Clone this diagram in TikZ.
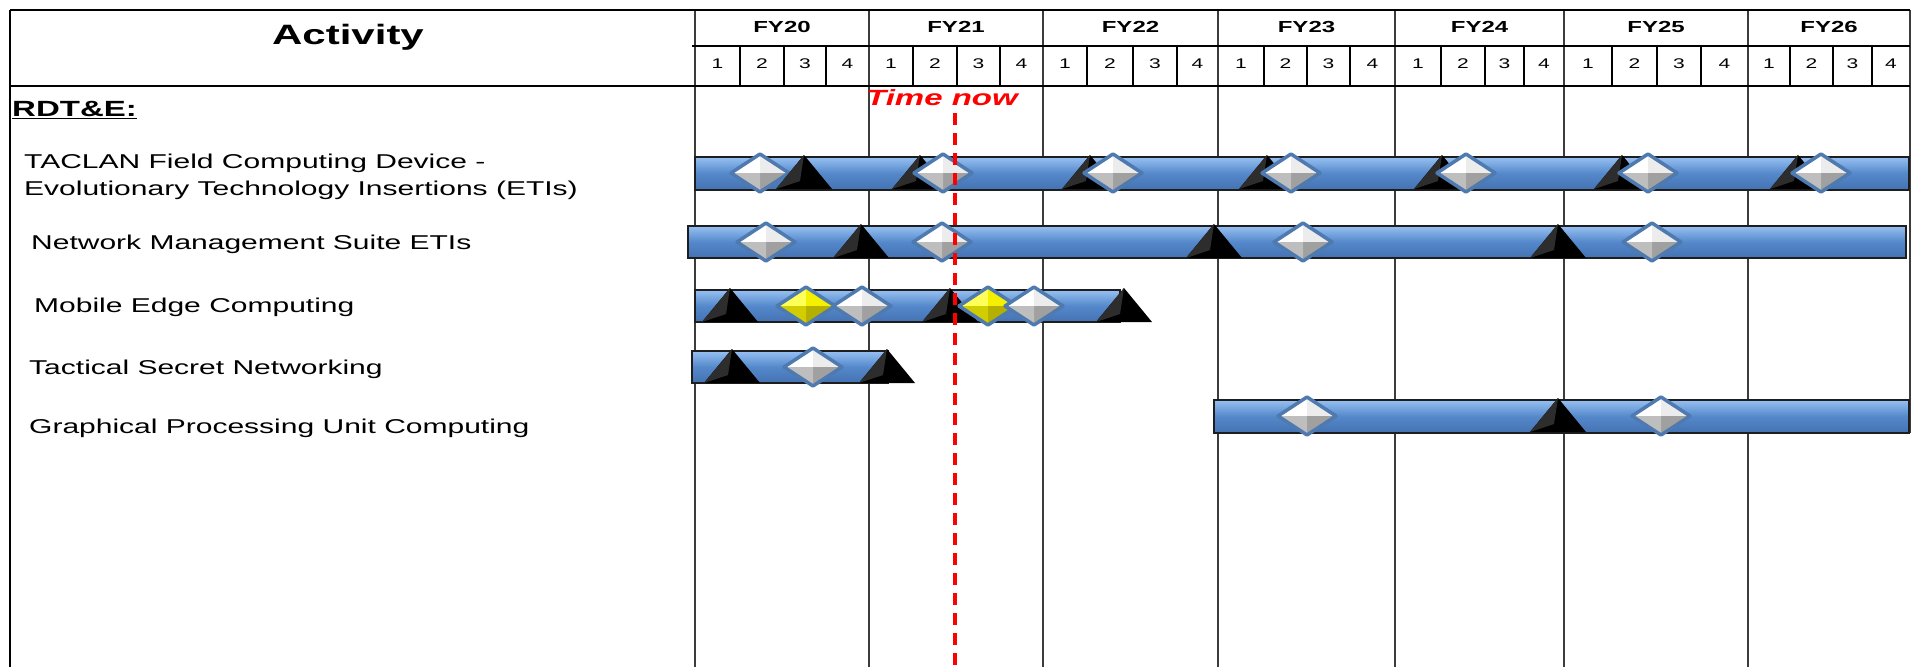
\documentclass[tikz,border=0pt]{standalone}
\usepackage{fontspec}
\setmainfont[FakeStretch=1.5]{Liberation Sans}
\definecolor{barblue}{RGB}{84,136,202}
\definecolor{barhi}{RGB}{150,192,242}
\definecolor{barlo}{RGB}{68,114,178}
\definecolor{baredge}{RGB}{30,30,30}
\definecolor{gridc}{RGB}{60,60,60}
\definecolor{rimblue}{RGB}{78,122,176}
\definecolor{Wtl}{RGB}{255,255,255}
\definecolor{Wtr}{RGB}{236,236,236}
\definecolor{Wbl}{RGB}{190,190,190}
\definecolor{Wbr}{RGB}{160,160,160}
\definecolor{Ytl}{RGB}{255,255,90}
\definecolor{Ytr}{RGB}{245,240,0}
\definecolor{Ybl}{RGB}{210,205,0}
\definecolor{Ybr}{RGB}{180,175,0}
\definecolor{trifacet}{RGB}{45,45,45}
\definecolor{nowred}{RGB}{255,0,0}
\newcommand\gem[3]{%
  \begin{scope}[shift={(#1,#2)}]
    \fill[#3tl] (-29,0) -- (0,-19) -- (0,0) -- cycle;
    \fill[#3tr] (0,-19) -- (29,0) -- (0,0) -- cycle;
    \fill[#3br] (29,0) -- (0,19) -- (0,0) -- cycle;
    \fill[#3bl] (0,19) -- (-29,0) -- (0,0) -- cycle;
    \draw[rimblue, line width=3.5pt, line join=round] (-29,0) -- (0,-19) -- (29,0) -- (0,19) -- cycle;
  \end{scope}}
\newcommand\milestone[2]{%
  \begin{scope}[shift={(#1,#2)}]
    \fill[black] (-28,16) -- (0,-18) -- (28,16) -- cycle;
    \fill[trifacet] (-28,16) -- (0,-18) -- (-4,8) -- cycle;
  \end{scope}}
\begin{document}
\begin{tikzpicture}[x=1pt,y=-1pt,
  gridline/.style={draw=gridc, line width=2pt},
  hdrline/.style={draw=black, line width=2pt},
  barbox/.style={draw=baredge, line width=2pt, top color=barhi, bottom color=barlo, middle color=barblue},
  lbl/.style={anchor=west, inner sep=0pt, font=\fontsize{20}{24}\selectfont},
  fy/.style={inner sep=0pt, font=\fontsize{16}{19}\selectfont\bfseries},
  qtr/.style={inner sep=0pt, font=\fontsize{14}{17}\selectfont},
  nowline/.style={draw=nowred, line width=4pt, dash pattern=on 12pt off 8pt}]
\useasboundingbox (0,0) rectangle (1919,667);
% grid and header lines
\foreach \x in {695,869,1043,1218,1395,1564,1748}
  \draw[gridline] (\x,10) -- (\x,667);
\draw[gridline] (1910,10) -- (1910,433);
\draw[hdrline] (10,10) -- (10,667);
\draw[hdrline] (10,10) -- (1910,10);
\draw[hdrline] (10,86) -- (1910,86);
\draw[hdrline] (692,46) -- (1910,46);
\foreach \x in {740,784,826,913,957,1000,1087,1133,1177,1264,1307,1350,1441,1485,1524,1612,1657,1701,1790,1833,1872}
  \draw[hdrline] (\x,46) -- (\x,86);
% header texts
\node[inner sep=0pt, font=\fontsize{28}{32}\selectfont\bfseries] (act) at (348,37) {Activity};
\foreach \n/\a/\b in {20/695/869,21/869/1043,22/1043/1218,23/1218/1395,24/1395/1564,25/1564/1748,26/1748/1910}
  \node[fy] (fy\n) at ({(\a+\b)/2},27) {FY\n};
\foreach \a/\b/\d [count=\i] in {695/740/1,740/784/2,784/826/3,826/869/4,
  869/913/1,913/957/2,957/1000/3,1000/1043/4,
  1043/1087/1,1087/1133/2,1133/1177/3,1177/1218/4,
  1218/1264/1,1264/1307/2,1307/1350/3,1350/1395/4,
  1395/1441/1,1441/1485/2,1485/1524/3,1524/1564/4,
  1564/1612/1,1612/1657/2,1657/1701/3,1701/1748/4,
  1748/1790/1,1790/1833/2,1833/1872/3,1872/1910/4}
  \node[qtr] (q\i) at ({(\a+\b)/2},64) {\d};
% row labels
\node[anchor=west, inner sep=0pt, font=\fontsize{22}{26}\selectfont\bfseries] (rdte) at (12,110) {\underline{RDT\&E:}};
\node[lbl] (r1a) at (24,163) {TACLAN Field Computing Device -};
\node[lbl] (r1b) at (24,190) {Evolutionary Technology Insertions (ETIs)};
\node[lbl] (r2) at (31,244) {Network Management Suite ETIs};
\node[lbl] (r3) at (34,307) {Mobile Edge Computing};
\node[lbl] (r4) at (29,369) {Tactical Secret Networking};
\node[lbl] (r5) at (29,428) {Graphical Processing Unit Computing};
% bars
\path[barbox] (695,157) rectangle (1909,190);
\path[barbox] (688,226) rectangle (1906,258);
\path[barbox] (695,290) rectangle (1120,322);
\path[barbox] (692,351) rectangle (888,383);
\path[barbox] (1214,400) rectangle (1909,433);
% row 1
\gem{760}{173}{W}
\milestone{804}{173}
\milestone{920}{173} \gem{943}{173}{W}
\milestone{1090}{173} \gem{1113}{173}{W}
\milestone{1267}{173} \gem{1291}{173}{W}
\milestone{1442}{173} \gem{1466}{173}{W}
\milestone{1622}{173} \gem{1648}{173}{W}
\milestone{1798}{173} \gem{1821}{173}{W}
% row 2
\gem{766}{242}{W}
\milestone{861}{242}
\gem{942}{242}{W}
\milestone{1214}{242}
\gem{1303}{242}{W}
\milestone{1558}{242}
\gem{1652}{242}{W}
% row 3
\milestone{730}{306}
\gem{806}{306}{Y}
\gem{862}{306}{W}
\milestone{950}{306}
\gem{988}{306}{Y}
\gem{1034}{306}{W}
\milestone{1124}{306}
% row 4
\milestone{732}{367}
\gem{813}{367}{W}
\milestone{887}{367}
% row 5
\gem{1307}{416}{W}
\milestone{1558}{416}
\gem{1661}{416}{W}
% time now
\node[inner sep=0pt, text=nowred, font=\fontsize{22}{26}\selectfont\bfseries\itshape] (tn) at (942,98) {Time now};
\coordinate (nowtop) at (955,113);
\coordinate (nowbot) at (955,667);
\draw[nowline] (nowtop) -- (nowbot);
\end{tikzpicture}
\end{document}
